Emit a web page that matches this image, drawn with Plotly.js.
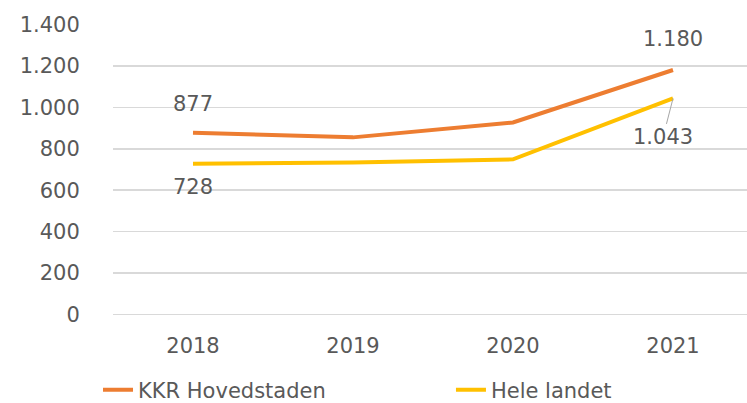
<!DOCTYPE html>
<html>
<head>
<meta charset="utf-8">
<script src="https://cdn.plot.ly/plotly-3.0.1.min.js"></script>
<style>html,body{margin:0;padding:0;background:#fff;}#chart{width:747px;height:403px;}</style>
</head>
<body>
<div id="chart"></div>
<script>
const years = ["2018", "2019", "2020", "2021"];
const kkrName = "KKR Hovedstaden";
const kkrValues = [877, 855, 927, 1180];
const heleName = "Hele landet";
const heleValues = [728, 734, 749, 1043];
const yTicks = [0, 200, 400, 600, 800, 1000, 1200, 1400];

function fmt(v) {
  const s = String(Math.round(v));
  return s.replace(/\B(?=(\d{3})+(?!\d))/g, ".");
}

const FONT = "DejaVu Sans, Verdana, sans-serif";
const TXT = "#595959";
const FS = 21;
const last = years.length - 1;

const traces = [
  {x: years, y: kkrValues, name: kkrName, type: "scatter", mode: "lines",
   line: {color: "#ED7D31", width: 4}, hoverinfo: "skip", legend: "legend"},
  {x: years, y: heleValues, name: heleName, type: "scatter", mode: "lines",
   line: {color: "#FFC000", width: 4}, hoverinfo: "skip", legend: "legend2"}
];

const annFont = {family: FONT, size: FS, color: TXT};
const annotations = [
  {x: 0, y: kkrValues[0], xref: "x", yref: "y", text: fmt(kkrValues[0]),
   showarrow: false, yshift: 29, font: annFont},
  {x: 0, y: heleValues[0], xref: "x", yref: "y", text: fmt(heleValues[0]),
   showarrow: false, yshift: -23, font: annFont},
  {x: last, y: kkrValues[last], xref: "x", yref: "y", text: fmt(kkrValues[last]),
   showarrow: false, yshift: 31, font: annFont},
  {x: last, y: heleValues[last], xref: "x", yref: "y", text: fmt(heleValues[last]),
   showarrow: true, arrowhead: 0, arrowwidth: 1, arrowcolor: "#a6a6a6",
   ax: -10, ay: 39, font: annFont}
];

const legendBase = {orientation: "h", xref: "container", yref: "container",
                    xanchor: "left", y: 0.0323, yanchor: "middle",
                    font: {family: FONT, size: FS, color: TXT}, bgcolor: "rgba(0,0,0,0)"};

const layout = {
  width: 747, height: 403,
  margin: {l: 113, r: 0, t: 24, b: 88, autoexpand: false},
  paper_bgcolor: "#ffffff", plot_bgcolor: "#ffffff",
  separators: ",.",
  font: {family: FONT, color: TXT, size: FS},
  showlegend: true,
  legend: Object.assign({}, legendBase, {x: 0.1312}),
  legend2: Object.assign({}, legendBase, {x: 0.6037}),
  xaxis: {type: "category", range: [-0.5, 3.4625], showgrid: false, zeroline: false,
          showline: false, ticks: "outside", ticklen: 12, tickcolor: "rgba(0,0,0,0)",
          tickfont: {family: FONT, size: FS, color: TXT}},
  yaxis: {range: [-2, 1402], tickvals: yTicks, ticktext: yTicks.map(fmt),
          showgrid: true, gridcolor: "#d9d9d9", gridwidth: 1.5,
          zeroline: true, zerolinecolor: "#d9d9d9", zerolinewidth: 1.5,
          showline: false, ticks: "outside", ticklen: 28, tickcolor: "rgba(0,0,0,0)",
          tickfont: {family: FONT, size: FS, color: TXT}},
  annotations: annotations
};

Plotly.newPlot("chart", traces, layout, {staticPlot: true, displayModeBar: false});
</script>
</body>
</html>
